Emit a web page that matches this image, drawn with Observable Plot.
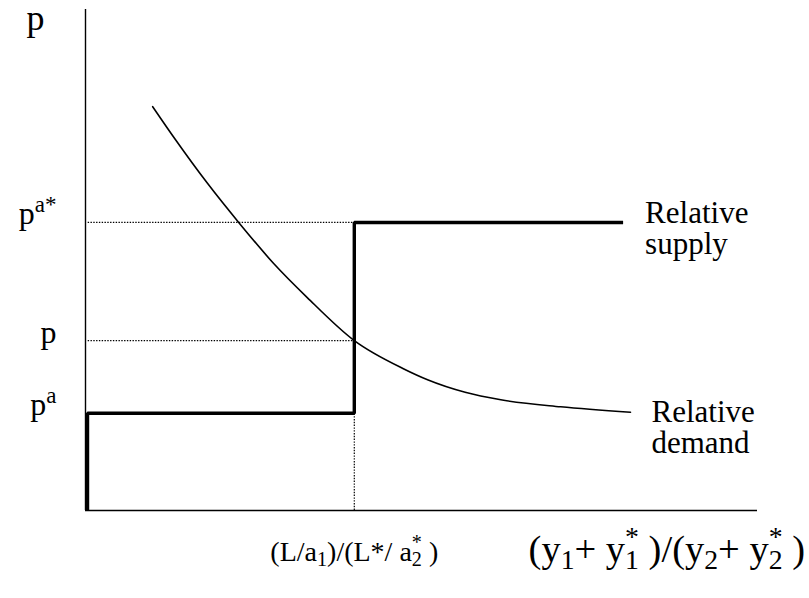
<!DOCTYPE html>
<html><head><meta charset="utf-8">
<script src="https://cdn.jsdelivr.net/npm/d3@7"></script>
<script src="https://cdn.jsdelivr.net/npm/@observablehq/plot@0.6"></script>
<style>
body{margin:0;background:#fff;font-family:"Liberation Serif",serif}
svg text, svg tspan{font-family:"Liberation Serif","Times New Roman",serif !important}
</style>
</head><body>
<div id="chart"></div>
<script>
// ---- data (arbitrary units 0..100 on both axes) ----
const supplyX = [0.3, 0.3, 40, 40, 80];
const supplyY = [0, 19.4, 19.4, 57.5, 57.5];
const demandX = [10, 13.4, 18.15, 23.1, 28, 33, 40, 47.3, 50.9, 56.5, 61.8, 70.7, 81.1];
const demandY = [80.6, 74.0, 65.3, 57.0, 49.3, 42.5, 33.9, 28.3, 26.1, 23.6, 22.1, 20.7, 19.6];
const priceTicks = [57.5, 33.9, 19.4];
const priceLabels = ["p^{a*}", "p", "p^{a}"];
const stepX = [40];
const quantityTicks = [40, 86.5];
const quantityLabels = ["(L/a_{1})/(L*/ a_{2}^{*} )", "(y_{1}+ y_{1}^{*} )/(y_{2}+ y_{2}^{*} )"];
const axisLabelY = ["p"];
const supplyLabel = ["Relative", "supply"];
const demandLabel = ["Relative", "demand"];

const supply = supplyX.map((x, i) => ({x, y: supplyY[i]}));
const demand = demandX.map((x, i) => ({x, y: demandY[i]}));
const ticks = priceTicks.map((y, i) => ({y, label: priceLabels[i]}));
const FONT = "Liberation Serif";
const txt = {fill: "black", fontFamily: FONT, lineAnchor: "bottom"};

const chart = Plot.plot({
  width: 809, height: 598,
  marginLeft: 85, marginRight: 52, marginTop: 9, marginBottom: 88,
  x: {domain: [0, 100], axis: null},
  y: {domain: [0, 100], axis: null},
  style: {fontFamily: FONT, color: "black", background: "white", overflow: "visible"},
  marks: [
    // dotted guides
    Plot.ruleY(priceTicks.slice(0, 2), {x1: () => 0.4, x2: () => stepX[0], stroke: "black", strokeWidth: 1.2, strokeDasharray: "1.4,1.4"}),
    Plot.ruleX(stepX, {y1: () => 0, y2: () => priceTicks[2], stroke: "black", strokeWidth: 1.2, strokeDasharray: "1.4,1.4"}),
    // axes
    Plot.ruleX([0], {y1: () => 0, y2: () => 100, stroke: "black", strokeWidth: 1.4}),
    Plot.ruleY([0], {x1: () => 0, x2: () => 100, stroke: "black", strokeWidth: 1.4}),
    // demand curve
    Plot.line(demand, {x: "x", y: "y", stroke: "black", strokeWidth: 1.6, curve: "monotone-x"}),
    // supply step
    Plot.line(supply, {x: "x", y: "y", stroke: "black", strokeWidth: 3.4, strokeLinejoin: "miter", strokeLinecap: "butt"}),
    // axis label p
    Plot.text(axisLabelY, {...txt, x: () => 0, y: () => 100, text: d => d, dx: -59, dy: 20, textAnchor: "start", fontSize: 36}),
    // price tick labels
    Plot.text(ticks, {...txt, x: () => 0, y: "y", text: "label", dx: -29, dy: 2, textAnchor: "end", fontSize: 32}),
    // quantity labels
    Plot.text([0], {...txt, x: () => quantityTicks[0], y: () => 0, text: () => quantityLabels[0], dy: 50, textAnchor: "middle", fontSize: 28}),
    Plot.text([1], {...txt, x: () => quantityTicks[1], y: () => 0, text: () => quantityLabels[1], dy: 51, textAnchor: "middle", fontSize: 38.5}),
    // curve labels
    Plot.text([supplyLabel[0]], {...txt, x: () => supplyX[4], y: () => supplyY[4], text: d => d, dx: 22, dy: 1, textAnchor: "start", fontSize: 31}),
    Plot.text([supplyLabel[1]], {...txt, x: () => supplyX[4], y: () => supplyY[4], text: d => d, dx: 22, dy: 32, textAnchor: "start", fontSize: 31}),
    Plot.text([demandLabel[0]], {...txt, x: () => demandX[demandX.length - 1], y: () => demandY[demandY.length - 1], text: d => d, dx: 21, dy: 10, textAnchor: "start", fontSize: 31}),
    Plot.text([demandLabel[1]], {...txt, x: () => demandX[demandX.length - 1], y: () => demandY[demandY.length - 1], text: d => d, dx: 21, dy: 41, textAnchor: "start", fontSize: 31})
  ]
});
document.getElementById("chart").append(chart);

// ---- turn _{..} and ^{..} markup into real sub/superscript tspans ----
const ctx = document.createElement("canvas").getContext("2d");
function measure(str, size, fam) { ctx.font = `${size}px ${fam}`; return ctx.measureText(str).width; }
chart.querySelectorAll("text").forEach(t => {
  const s = t.textContent;
  if (!/[_^]\{/.test(s)) return;
  const cs = getComputedStyle(t);
  const S = parseFloat(cs.fontSize);
  const fam = cs.fontFamily;
  const small = 0.72 * S, subShift = 0.2 * S, supShift = 0.4 * S;
  t.textContent = "";
  t.style.whiteSpace = "pre";
  let cur = 0, pendingDx = 0;
  const add = (str, size, shift, dx) => {
    const ts = document.createElementNS("http://www.w3.org/2000/svg", "tspan");
    if (size !== S) ts.setAttribute("font-size", size);
    const dy = shift - cur;
    if (dy) ts.setAttribute("dy", dy);
    if (dx) ts.setAttribute("dx", dx);
    ts.textContent = str;
    t.appendChild(ts);
    cur = shift;
  };
  const re = /_\{([^}]*)\}\^\{([^}]*)\}|_\{([^}]*)\}|\^\{([^}]*)\}|([^_^]+)/g;
  let m;
  while ((m = re.exec(s))) {
    if (m[1] !== undefined) {
      add(m[1], small, subShift, pendingDx);
      const w1 = measure(m[1], small, fam), w2 = measure(m[2], small, fam);
      add(m[2], small, -supShift, -w1);
      pendingDx = Math.max(0, w1 - w2);
    } else if (m[3] !== undefined) { add(m[3], small, subShift, pendingDx); pendingDx = 0; }
    else if (m[4] !== undefined) { add(m[4], small, -supShift, pendingDx); pendingDx = 0; }
    else { add(m[5], S, 0, pendingDx); pendingDx = 0; }
  }
});
</script>
</body></html>
